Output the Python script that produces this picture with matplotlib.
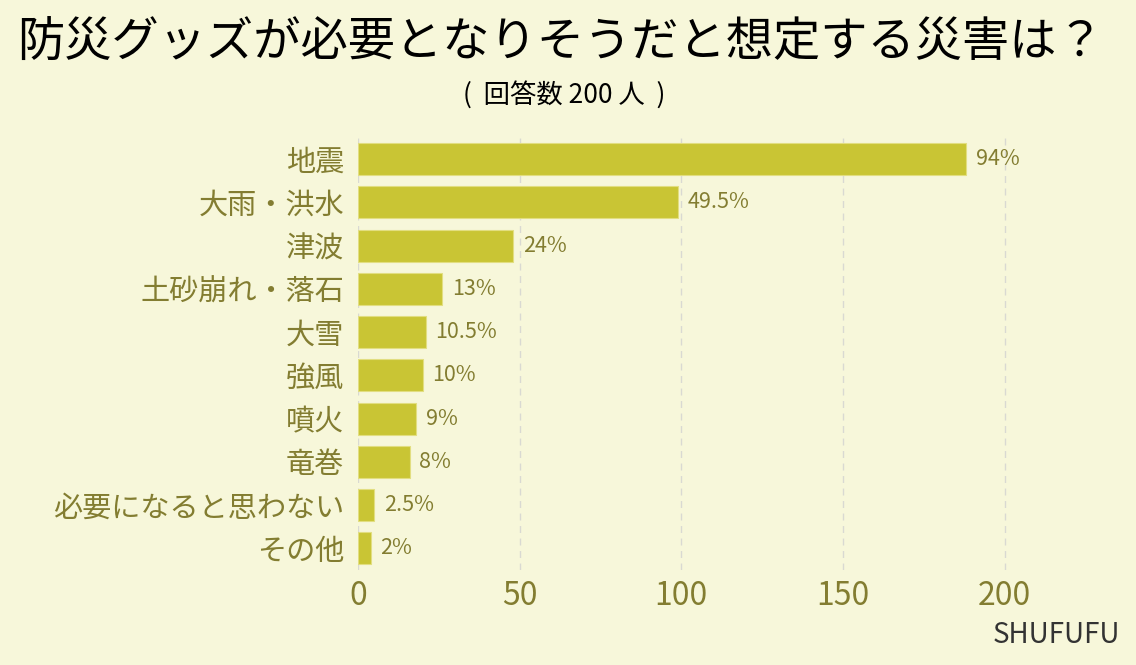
import matplotlib
matplotlib.use("Agg")
import matplotlib.pyplot as plt

plt.rcParams["font.family"] = ["Noto Sans CJK JP", "DejaVu Sans"]

categories = ["地震", "大雨・洪水", "津波", "土砂崩れ・落石", "大雪", "強風",
              "噴火", "竜巻", "必要になると思わない", "その他"]
counts = [188, 99, 48, 26, 21, 20, 18, 16, 5, 4]
pct_labels = ["94%", "49.5%", "24%", "13%", "10.5%", "10%", "9%", "8%", "2.5%", "2%"]
xticks = [0, 50, 100, 150, 200]

BG = "#F7F7DA"
BAR = "#C9C534"
OLIVE = "#837D31"

fig = plt.figure(figsize=(11.36, 6.65), dpi=100, facecolor=BG)
ax = fig.add_axes([0.315, 0.143, 0.655, 0.65], facecolor=BG)

y = range(len(categories))
ax.barh(list(y), counts, height=0.74, color=BAR, edgecolor="#E2DE80", linewidth=0.8, zorder=3)
for i, (c, lab) in enumerate(zip(counts, pct_labels)):
    ax.text(c + 3, i, lab, va="center", ha="left", fontsize=15.5, color=OLIVE, zorder=4)

ax.set_ylim(9.5, -0.5)
ax.set_xlim(0, 230)
ax.set_yticks(list(y))
ax.set_yticklabels(categories, fontsize=21, color=OLIVE)
ax.set_xticks(xticks)
ax.set_xticklabels([str(t) for t in xticks], fontsize=23, color=OLIVE)
ax.tick_params(length=0, pad=10)
ax.tick_params(axis="x", pad=7)
for s in ax.spines.values():
    s.set_visible(False)
ax.grid(axis="x", color="#D9D9D2", linestyle=(0, (5, 4)), linewidth=1, zorder=0)

fig.text(0.493, 0.935, "防災グッズが必要となりそうだと想定する災害は？",
         ha="center", va="center", fontsize=34, color="black")
fig.text(0.497, 0.858, "(  回答数 200 人  )", ha="center", va="center",
         fontsize=19, color="black")
fig.text(0.986, 0.045, "SHUFUFU", ha="right", va="center", fontsize=20, color="#333333")

fig.savefig("out.png", dpi=100, facecolor=BG)
